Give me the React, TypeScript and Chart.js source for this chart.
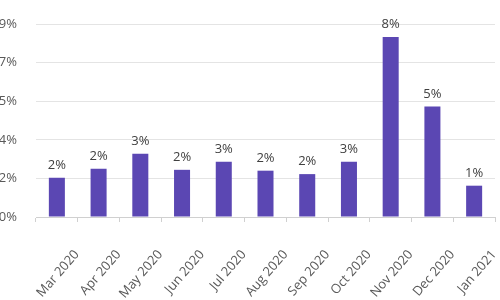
import React, { useEffect, useRef } from "react";
import { Chart, registerables } from "chart.js";

Chart.register(...registerables);

const categories = ["Mar 2020", "Apr 2020", "May 2020", "Jun 2020", "Jul 2020", "Aug 2020", "Sep 2020", "Oct 2020", "Nov 2020", "Dec 2020", "Jan 2021"];
const values = [1.83, 2.25, 2.95, 2.2, 2.58, 2.16, 2.0, 2.58, 8.39, 5.15, 1.46];
const yTicks = [0, 1.8, 3.6, 5.4, 7.2, 9.0];

const labelPlugin = {
  id: "barLabels",
  afterDatasetsDraw(chart: any) {
    const ctx = chart.ctx;
    const meta = chart.getDatasetMeta(0);
    ctx.save();
    ctx.font = "13px 'Open Sans'";
    ctx.fillStyle = "#404040";
    ctx.textAlign = "center";
    ctx.textBaseline = "bottom";
    meta.data.forEach((el: any, i: number) => {
      ctx.fillText(Math.round(values[i]) + "%", el.x, el.y - 6);
    });
    ctx.restore();
  },
};

export default function App() {
  const ref = useRef<HTMLCanvasElement | null>(null);
  useEffect(() => {
    if (!ref.current) return;
    const chart = new Chart(ref.current, {
      type: "bar",
      data: {
        labels: categories,
        datasets: [
          {
            data: values,
            backgroundColor: "#5b47b3",
            categoryPercentage: 0.8,
            barPercentage: 0.48,
          },
        ],
      },
      options: {
        responsive: false,
        animation: false,
        layout: { padding: { top: 24, right: 5, left: 0, bottom: 0 } },
        plugins: { legend: { display: false }, tooltip: { enabled: false } },
        scales: {
          x: {
            afterFit: (s: any) => {
              s.height = 83;
              s.paddingLeft = 0;
              s.paddingRight = 0;
            },
            grid: { display: true, drawOnChartArea: false, drawTicks: true, tickLength: 5, color: "#d0d0d0", offset: true },
            border: { color: "#d0d0d0" },
            ticks: {
              maxRotation: 49,
              minRotation: 49,
              labelOffset: 20,
              padding: 25,
              color: "#595959",
              font: { family: "'Open Sans'", size: 13 },
            },
          },
          y: {
            min: 0,
            max: 9,
            afterBuildTicks: (s: any) => {
              s.ticks = yTicks.map((v) => ({ value: v }));
            },
            afterFit: (s: any) => {
              s.width = 36;
              s.paddingTop = 0;
            },
            grid: { color: "#e4e4e4", drawTicks: false },
            border: { display: false },
            ticks: {
              padding: 19,
              color: "#595959",
              font: { family: "'Open Sans'", size: 13 },
              callback: (v: any) => Math.round(Number(v)) + "%",
            },
          },
        },
      },
      plugins: [labelPlugin],
    });
    return () => chart.destroy();
  }, []);
  return (
    <div style={{ position: "fixed", left: 0, top: 0, width: 500, height: 300, background: "#fff" }}>
      <canvas ref={ref} width={500} height={300} />
    </div>
  );
}
